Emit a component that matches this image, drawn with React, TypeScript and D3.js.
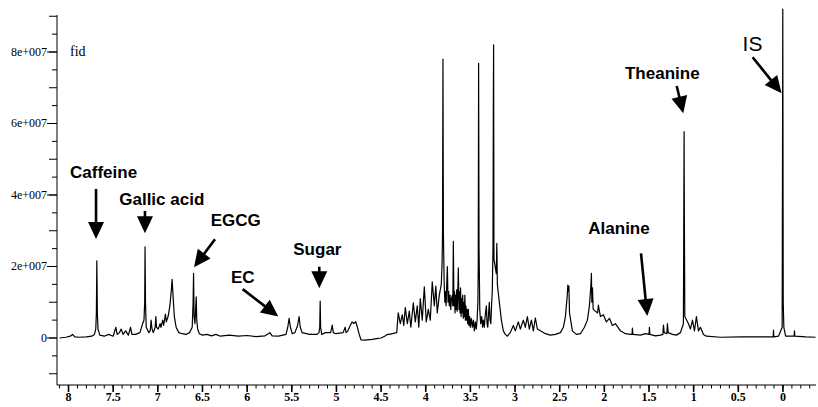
import React from 'react';
import * as d3 from 'd3';

const width = 818;
const height = 407;

// 1H NMR spectrum, [ppm, intensity in units of 1e7]
const spectrum: [number, number][] = [
  [8.1, 0.0], [8.03, 0.02], [7.98, 0.05], [7.955, 0.1], [7.93, 0.03], [7.88, 0.02], [7.8, 0.03],
  [7.74, 0.05], [7.71, 0.1], [7.695, 0.25], [7.688, 0.7], [7.683, 2.16], [7.677, 0.7], [7.67, 0.25],
  [7.65, 0.08], [7.6, 0.05], [7.55, 0.1], [7.5, 0.05], [7.47, 0.3], [7.455, 0.1], [7.43, 0.15],
  [7.41, 0.25], [7.39, 0.1], [7.36, 0.2], [7.33, 0.08], [7.305, 0.3], [7.29, 0.1], [7.25, 0.1],
  [7.2, 0.15], [7.17, 0.4], [7.155, 0.5], [7.147, 1.0], [7.143, 2.55], [7.138, 1.0], [7.13, 0.3],
  [7.1, 0.15], [7.085, 0.2], [7.075, 0.5], [7.065, 0.25], [7.05, 0.15], [7.03, 0.3], [7.022, 0.6],
  [7.015, 0.3], [6.995, 0.25], [6.975, 0.4], [6.965, 0.3], [6.945, 0.5], [6.935, 0.35], [6.915, 0.67],
  [6.905, 0.45], [6.885, 0.6], [6.865, 0.9], [6.85, 1.3], [6.84, 1.64], [6.83, 1.2], [6.815, 0.6],
  [6.795, 0.3], [6.765, 0.15], [6.725, 0.12], [6.685, 0.1], [6.645, 0.15], [6.615, 0.3], [6.605, 1.0],
  [6.6, 1.81], [6.594, 0.6], [6.584, 0.4], [6.575, 0.9], [6.57, 1.15], [6.564, 0.5], [6.554, 0.25],
  [6.535, 0.12], [6.5, 0.08], [6.45, 0.1], [6.4, 0.06], [6.35, 0.1], [6.3, 0.05], [6.2, 0.08],
  [6.1, 0.05], [6.0, 0.07], [5.9, 0.04], [5.8, 0.06], [5.745, 0.15], [5.72, 0.06], [5.65, 0.05],
  [5.6, 0.08], [5.565, 0.1], [5.545, 0.3], [5.53, 0.55], [5.515, 0.3], [5.495, 0.12], [5.465, 0.15],
  [5.435, 0.35], [5.418, 0.6], [5.405, 0.3], [5.385, 0.15], [5.3, 0.1], [5.22, 0.1], [5.195, 0.15],
  [5.187, 0.3], [5.182, 1.03], [5.177, 0.3], [5.165, 0.1], [5.125, 0.15], [5.065, 0.15], [5.047, 0.36],
  [5.035, 0.15], [5.005, 0.12], [4.925, 0.15], [4.902, 0.3], [4.892, 0.15], [4.872, 0.2], [4.845, 0.35],
  [4.825, 0.45], [4.805, 0.4], [4.785, 0.46], [4.765, 0.3], [4.745, 0.1], [4.725, -0.05], [4.68, -0.06],
  [4.6, -0.04], [4.55, -0.02], [4.5, 0.0], [4.46, 0.05], [4.43, 0.1], [4.41, 0.1], [4.325, 0.15],
  [4.308, 0.7], [4.285, 0.4], [4.263, 0.65], [4.246, 0.35], [4.229, 0.85], [4.206, 0.4], [4.184, 0.75],
  [4.167, 0.3], [4.139, 0.98], [4.117, 0.45], [4.095, 0.9], [4.078, 0.3], [4.061, 1.1], [4.039, 0.5],
  [4.016, 1.43], [3.994, 0.45], [3.971, 0.8], [3.949, 0.5], [3.927, 1.57], [3.904, 0.9], [3.887, 1.45],
  [3.871, 0.7], [3.848, 1.2], [3.826, 1.5], [3.818, 2.0], [3.812, 2.9], [3.807, 7.8], [3.802, 2.9],
  [3.794, 1.6], [3.786, 1.0], [3.78, 1.3], [3.772, 0.9], [3.765, 1.5], [3.758, 2.0], [3.75, 1.0],
  [3.743, 1.3], [3.736, 0.9], [3.728, 1.2], [3.72, 0.8], [3.712, 1.1], [3.702, 1.2], [3.697, 0.9],
  [3.691, 2.7], [3.684, 0.9], [3.678, 1.3], [3.672, 0.7], [3.666, 1.2], [3.66, 0.8], [3.654, 1.35],
  [3.648, 0.75], [3.642, 1.2], [3.635, 1.96], [3.628, 0.8], [3.622, 1.3], [3.616, 0.7], [3.61, 1.4],
  [3.604, 0.6], [3.598, 1.1], [3.592, 0.7], [3.586, 1.2], [3.58, 0.55], [3.574, 1.0], [3.568, 0.6],
  [3.562, 1.2], [3.556, 0.5], [3.55, 0.9], [3.544, 0.5], [3.538, 0.8], [3.53, 0.4], [3.523, 0.8],
  [3.516, 0.35], [3.508, 0.6], [3.501, 0.3], [3.49, 0.55], [3.478, 0.3], [3.467, 0.5], [3.456, 0.2],
  [3.445, 0.45], [3.434, 0.25], [3.425, 0.5], [3.416, 1.0], [3.412, 2.0], [3.408, 7.68], [3.403, 2.5],
  [3.395, 0.8], [3.385, 0.4], [3.373, 0.6], [3.364, 0.3], [3.355, 0.5], [3.344, 0.3], [3.335, 0.6],
  [3.321, 0.9], [3.313, 0.4], [3.305, 0.3], [3.296, 0.7], [3.288, 1.0], [3.28, 0.5], [3.271, 0.4],
  [3.263, 0.9], [3.255, 1.3], [3.247, 2.5], [3.243, 6.57], [3.24, 8.2], [3.236, 2.2], [3.21, 1.8],
  [3.204, 2.65], [3.198, 1.5], [3.176, 1.0], [3.153, 0.5], [3.131, 0.2], [3.109, 0.1], [3.086, 0.05],
  [3.053, 0.15], [3.019, 0.35], [2.997, 0.2], [2.963, 0.45], [2.941, 0.25], [2.907, 0.5], [2.885, 0.3],
  [2.862, 0.6], [2.84, 0.25], [2.817, 0.5], [2.795, 0.2], [2.773, 0.56], [2.75, 0.25], [2.717, 0.2],
  [2.66, 0.12], [2.605, 0.08], [2.548, 0.1], [2.492, 0.15], [2.459, 0.3], [2.436, 0.6], [2.415, 1.2],
  [2.409, 1.48], [2.403, 1.3], [2.397, 1.45], [2.39, 0.7], [2.358, 0.2], [2.313, 0.1], [2.268, 0.12],
  [2.223, 0.3], [2.19, 0.5], [2.167, 0.9], [2.15, 1.5], [2.145, 1.81], [2.14, 1.0], [2.133, 1.4],
  [2.125, 0.8], [2.075, 0.7], [2.067, 0.92], [2.044, 0.6], [2.011, 0.65], [1.977, 0.45], [1.943, 0.55],
  [1.91, 0.35], [1.876, 0.4], [1.82, 0.2], [1.764, 0.12], [1.708, 0.1], [1.69, 0.1], [1.686, 0.28],
  [1.68, 0.1], [1.596, 0.08], [1.54, 0.12], [1.5, 0.1], [1.495, 0.3], [1.49, 0.1], [1.428, 0.06],
  [1.372, 0.08], [1.345, 0.1], [1.338, 0.36], [1.33, 0.15], [1.3, 0.12], [1.294, 0.4], [1.285, 0.15],
  [1.237, 0.1], [1.193, 0.08], [1.148, 0.15], [1.115, 0.4], [1.111, 2.88], [1.107, 5.77], [1.103, 2.88],
  [1.099, 0.6], [1.058, 0.4], [1.036, 0.25], [1.013, 0.5], [0.991, 0.2], [0.969, 0.6], [0.946, 0.2],
  [0.924, 0.3], [0.89, 0.1], [0.857, 0.05], [0.7, 0.02], [0.475, 0.03], [0.251, 0.03], [0.11, 0.03],
  [0.106, 0.22], [0.102, 0.03], [0.05, 0.05], [0.009, 0.3], [0.005, 5.12], [0.002, 9.2], [-0.003, 1.0],
  [-0.01, 0.3], [-0.03, 0.05], [-0.125, 0.05], [-0.129, 0.2], [-0.133, 0.05], [-0.255, 0.03], [-0.365, 0.02],
];

const yTickValues = [0, 2e7, 4e7, 6e7, 8e7];
const yTickLabels = ['0', '2e+007', '4e+007', '6e+007', '8e+007'];
const xTickValues = [8, 7.5, 7, 6.5, 6, 5.5, 5, 4.5, 4, 3.5, 3, 2.5, 2, 1.5, 1, 0.5, 0];
const xTickLabels = ['8', '7.5', '7', '6.5', '6', '5.5', '5', '4.5', '4', '3.5', '3', '2.5', '2', '1.5', '1', '0.5', '0'];

// compound labels, arrow tip in data coordinates [ppm, intensity 1e7]
const compounds = ['Caffeine', 'Gallic acid', 'EGCG', 'EC', 'Sugar', 'Alanine', 'Theanine', 'IS'];
const compoundTips: [number, number][] = [
  [7.692, 2.77], [7.144, 2.93], [6.595, 1.98], [5.651, 0.6], [5.192, 1.39], [1.519, 0.615], [1.116, 6.285], [0.015, 6.845],
];
// tail offset and label offset from tip, in px
const arrowTail = [[0, -50], [0, -22.3], [21, -28], [-35.6, -27.4], [0, -21.6], [-6.3, -62.7], [-6.6, -27.3], [-29, -36]];
const labelPos = [[-26, -61.2], [-25.7, -27.9], [16.7, -41.3], [-47.3, -33.9], [-26, -33.3], [-59, -81.6], [-58.3, -33.9], [-39, -42.5]];

const xScale = d3.scaleLinear().domain([8.129, -0.37]).range([57, 816]);
const yScale = d3.scaleLinear().domain([-1.315e7, 9.035e7]).range([385, 15]);

const spectrumLine = d3.line<[number, number]>()
  .x(d => xScale(d[0]))
  .y(d => yScale(d[1] * 1e7));

const Arrow = ({ x1, y1, x2, y2 }: { x1: number; y1: number; x2: number; y2: number }) => {
  const len = Math.hypot(x2 - x1, y2 - y1);
  const ux = (x2 - x1) / len, uy = (y2 - y1) / len;
  const headLen = 17, hw = 8;
  const bx = x2 - ux * headLen, by = y2 - uy * headLen;
  const pts = [[x2, y2], [bx - uy * hw, by + ux * hw], [bx + uy * hw, by - ux * hw]];
  return (
    <g>
      <line x1={x1} y1={y1} x2={bx + ux * 2} y2={by + uy * 2} stroke="#000" strokeWidth={2.6} />
      <polygon points={pts.map(p => p.join(',')).join(' ')} fill="#000" />
    </g>
  );
};

const App = () => {
  const yMinor = d3.range(-1e7, 9.01e7, 5e6);
  const xMinor = d3.range(-3, 82).map(i => i / 10);
  const [x0, x1] = xScale.range();
  const [yb, yt] = yScale.range();
  return (
    <svg width={width} height={height} style={{ position: 'absolute', left: 0, top: 0, background: '#fff' }}>
      <rect width={width} height={height} fill="#fff" />
      {/* y axis */}
      <line x1={x0} x2={x0} y1={yt} y2={yb} stroke="#000" strokeWidth={1} />
      {yMinor.map(v => {
        const major = Math.abs(v % 1e7) < 1;
        return <line key={v} x1={x0 - (major ? 8 : 5)} x2={x0} y1={yScale(v)} y2={yScale(v)} stroke="#000" strokeWidth={1} />;
      })}
      {yTickValues.map((v, i) => (
        <g key={v}>
          <line x1={x0 - 10} x2={x0} y1={yScale(v)} y2={yScale(v)} stroke="#000" strokeWidth={1} />
          <text x={x0 - 10} y={yScale(v) + 4} textAnchor="end" fontFamily="'Liberation Serif', serif" fontSize={12} fill="#000">
            {yTickLabels[i]}
          </text>
        </g>
      ))}
      {/* x axis */}
      <line x1={x0} x2={x1} y1={yb} y2={yb} stroke="#000" strokeWidth={1} />
      {xMinor.map(v => (
        <line key={v} x1={xScale(v)} x2={xScale(v)} y1={yb} y2={yb + 3.5} stroke="#000" strokeWidth={1} />
      ))}
      {xTickValues.map((v, i) => (
        <g key={v}>
          <line x1={xScale(v)} x2={xScale(v)} y1={yb} y2={yb + 7} stroke="#000" strokeWidth={1.6} />
          <text x={xScale(v)} y={yb + 16} textAnchor="middle" fontFamily="'Liberation Serif', serif" fontWeight="bold" fontSize={12} fill="#000">
            {xTickLabels[i]}
          </text>
        </g>
      ))}
      <text x={70} y={56} fontFamily="'Liberation Serif', serif" fontSize={14} fill="#000">fid</text>
      {/* spectrum */}
      <path d={spectrumLine(spectrum) ?? ''} fill="none" stroke="#000" strokeWidth={1.2} strokeLinejoin="round" />
      {/* annotations */}
      {compounds.map((name, i) => {
        const tx = xScale(compoundTips[i][0]);
        const ty = yScale(compoundTips[i][1] * 1e7);
        const isIS = name === 'IS';
        return (
          <g key={name}>
            <Arrow x1={tx + arrowTail[i][0]} y1={ty + arrowTail[i][1]} x2={tx} y2={ty} />
            <text x={tx + labelPos[i][0]} y={ty + labelPos[i][1]}
              fontFamily="'Liberation Sans', Arial, sans-serif"
              fontWeight={isIS ? 'normal' : 'bold'} fontSize={isIS ? 21 : 17} fill="#000">
              {name}
            </text>
          </g>
        );
      })}
    </svg>
  );
};

export default App;
